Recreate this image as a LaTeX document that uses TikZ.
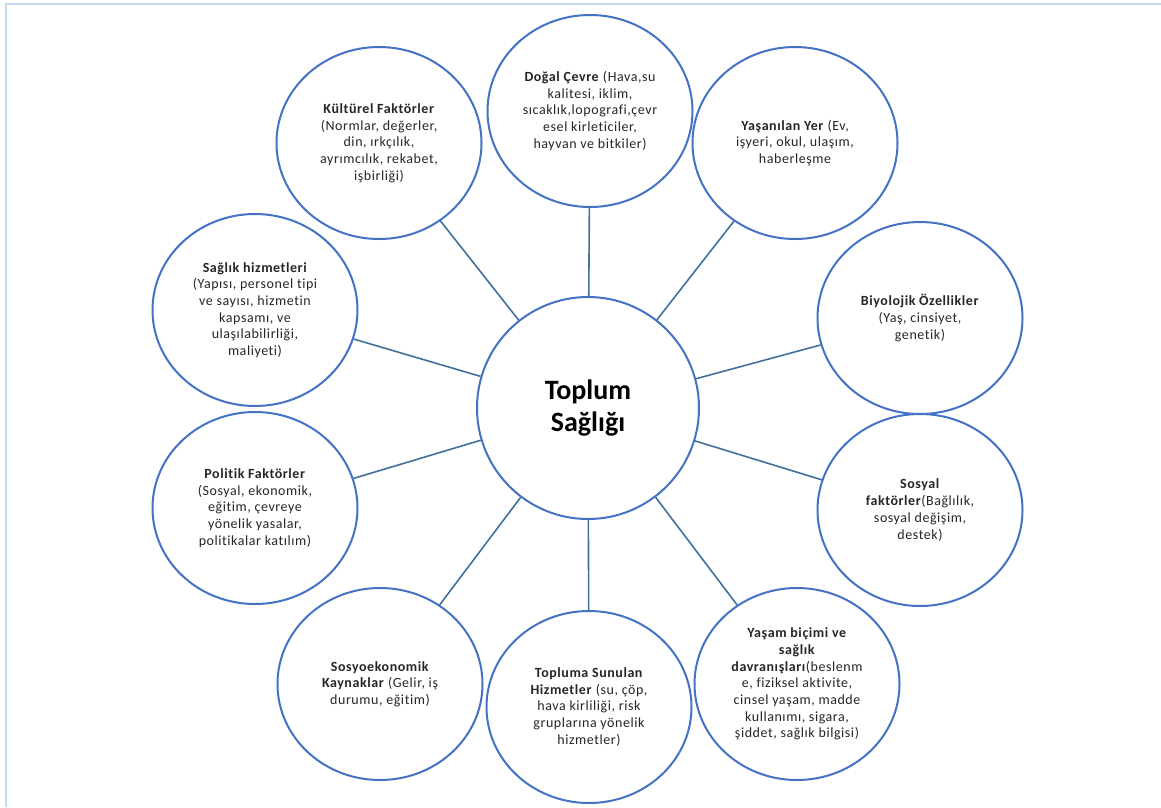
\documentclass[tikz,border=0pt]{standalone}
\usepackage{fontspec}
\setmainfont{Carlito}[Ligatures=NoCommon]
\usetikzlibrary{shapes.geometric}
\definecolor{cblue}{HTML}{4472C4}
\definecolor{lblue}{HTML}{41719C}
\definecolor{frame}{HTML}{C5D9F1}
\definecolor{txt}{HTML}{262626}
\tikzset{
  outer/.style={ellipse, draw=cblue, line width=2pt, fill=white,
    minimum width=205pt, minimum height=192pt, inner sep=0pt,
    align=center, text=txt,
    font=\fontsize{14}{16.7}\selectfont\addfontfeature{LetterSpace=4}},
  hub/.style={circle, draw=cblue, line width=2pt, fill=white,
    minimum size=222pt, inner sep=0pt, align=center, text=black,
    font=\fontsize{28}{32}\selectfont\bfseries},
  spoke/.style={draw=lblue, line width=1.6pt}
}
\begin{document}
\begin{tikzpicture}[x=1pt,y=-1pt]
\useasboundingbox (0,0) rectangle (1161,807);
\fill[white] (0,0) rectangle (1161,807);
\draw[frame, line width=1.5pt] (6,807) -- (6,4) -- (1161,4);

\node[hub] (c) at (588,408) {Toplum\\Sağlığı};

\node[outer] (dc) at (590,111) {\textbf{Doğal Çevre} (Hava,su\\kalitesi, iklim,\\sıcaklık,lopografi,çevr\\esel kirleticiler,\\hayvan ve bitkiler)};
\node[outer] (kf) at (379,143) {\textbf{Kültürel Faktörler}\\(Normlar, değerler,\\din, ırkçılık,\\ayrımcılık, rekabet,\\işbirliği)};
\node[outer] (yy) at (795,143) {\textbf{Yaşanılan Yer} (Ev,\\işyeri, okul, ulaşım,\\haberleşme};
\node[outer] (sh) at (255,310) {\textbf{Sağlık hizmetleri}\\(Yapısı, personel tipi\\ve sayısı, hizmetin\\kapsamı, ve\\ulaşılabilirliği,\\maliyeti)};
\node[outer] (bo) at (920,318) {\textbf{Biyolojik Özellikler}\\(Yaş, cinsiyet,\\genetik)};
\node[outer] (pf) at (255,508) {\textbf{Politik Faktörler}\\(Sosyal, ekonomik,\\eğitim, çevreye\\yönelik yasalar,\\politikalar katılım)};
\node[outer] (sf) at (920,510) {\textbf{Sosyal}\\\textbf{faktörler}(Bağlılık,\\sosyal değişim,\\destek)};
\node[outer] (sk) at (380,684) {\textbf{Sosyoekonomik}\\\textbf{Kaynaklar} (Gelir, iş\\durumu, eğitim)};
\node[outer] (ts) at (589,707) {\textbf{Topluma Sunulan}\\\textbf{Hizmetler} (su, çöp,\\hava kirliliği, risk\\gruplarına yönelik\\hizmetler)};
\node[outer] (yb) at (797,684) {\textbf{Yaşam biçimi ve}\\\textbf{sağlık}\\\textbf{davranışları}(beslenm\\e, fiziksel aktivite,\\cinsel yaşam, madde\\kullanımı, sigara,\\şiddet, sağlık bilgisi)};

\foreach \n in {dc,kf,yy,sh,bo,pf,sf,sk,ts,yb}
  \draw[spoke] (c) -- (\n);
\end{tikzpicture}
\end{document}
